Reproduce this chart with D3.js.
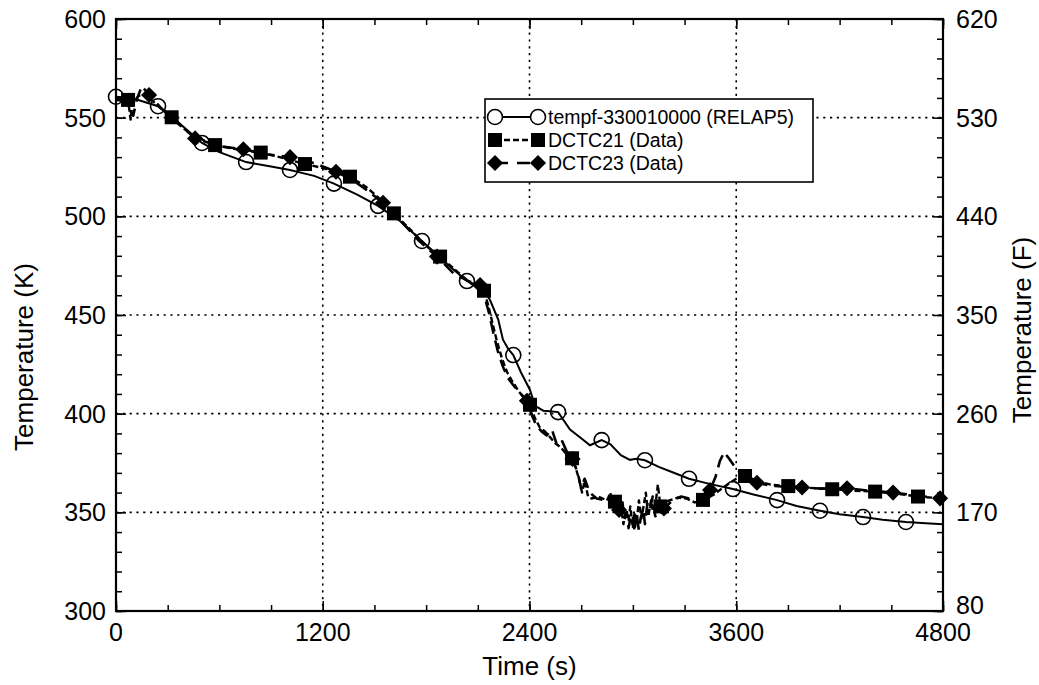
<!DOCTYPE html>
<html>
<head>
<meta charset="utf-8">
<script src="https://cdn.jsdelivr.net/npm/d3@7/dist/d3.min.js"></script>
<style>
  html, body { margin: 0; padding: 0; background: #fff; }
  svg { display: block; }
  text { font-family: "Liberation Sans", Arial, Helvetica, sans-serif; fill: #000; }
</style>
</head>
<body>
<svg id="chart" width="1039" height="685"></svg>
<script>
// ---- Data -----------------------------------------------------------
// RELAP5 calculation (fluid temperature, K)
const relapTime = [0,60,120,244,350,499,600,755,900,1010,1150,1265,1400,1521,1650,1776,1900,2037,2100,2140,2171,2219,2246,2275,2306,2350,2403,2432,2480,2520,2566,2635,2700,2751,2790,2819,2870,2930,2983,3020,3070,3150,3230,3326,3450,3581,3700,3837,3950,4086,4200,4336,4450,4585,4700,4800];
const relapTemp = [560.6,560.2,559.2,555.8,548.5,537.2,532.5,527.5,525.2,523.5,520.5,516.6,511,505.3,497.5,487.5,477.5,467.2,465,462,457.6,447.5,437.5,433,429.7,421,412,404,401.5,401.2,400.8,392,387.5,384,385.5,386.6,384.5,379,376.6,377.2,376.4,373,370.3,367,364.3,361.8,359,356.2,353.2,350.8,349,347.6,346.3,345.1,344.5,344];
const relapMarkers = [0,244,499,755,1010,1265,1521,1776,2037,2306,2566,2819,3070,3326,3581,3837,4086,4336,4585];

// Thermocouple DCTC21 (measured, K)
const dctc21Time = [0,40,70,85,95,130,170,230,323,400,459,575,700,840,950,1097,1200,1358,1450,1530,1613,1700,1800,1881,1980,2060,2136,2160,2185,2210,2240,2270,2296,2340,2403,2430,2460,2490,2520,2550,2580,2610,2647,2670,2690,2705,2720,2740,2760,2800,2850,2870,2880,2896,2915,2930,2945,2960,2975,2985,3000,3010,3022,3035,3050,3060,3075,3090,3105,3115,3130,3145,3160,3210,3260,3310,3360,3407,3470,3530,3600,3651,3720,3800,3902,4000,4157,4280,4406,4530,4655,4800];
const dctc21Temp = [559,558.5,559,549,557,561,562,557,550.2,544,540.5,536.1,534,532.3,530,526.5,524.5,520.1,515,509,501.5,494,485,479.6,472,466,462.3,455,446,437,428,421,417,411,404.5,398,393,391,388,385,383,380,377.4,372,366,360,366,358,357,358,356,360,352,355.4,349,354,344,351,346,353,342,350,345,356,347,352,360,348,356,351,353,364,353,356,357.5,357,355,356.3,359,363,367,368.4,366,364,363.3,362.5,361.7,361,360.5,359.5,358,357];
const dctc21Markers = [70,323,575,840,1097,1358,1613,1881,2136,2403,2647,2896,3160,3407,3651,3902,4157,4406,4655];

// Thermocouple DCTC23 (measured, K)
const dctc23Time = [0,50,100,120,150,192,260,323,400,459,600,739,870,1010,1150,1277,1380,1460,1550,1650,1760,1863,1960,2050,2113,2140,2165,2190,2215,2245,2275,2310,2350,2385,2410,2440,2470,2500,2530,2560,2590,2620,2650,2680,2700,2720,2750,2790,2840,2880,2920,2940,2950,2965,2975,2990,3000,3010,3020,3035,3045,3060,3070,3085,3100,3115,3130,3180,3230,3280,3330,3390,3448,3480,3505,3530,3560,3600,3650,3720,3800,3890,3982,4100,4243,4370,4510,4650,4783,4800];
const dctc23Temp = [560,558,551,559,566,561.5,555,550,544,539.5,535.5,534,531.5,530,527,522.6,518,513,506.9,498,487.5,479.6,471,467,465.2,459,451,441,432,424,418,414,410,406.5,400,394,391,389,392,384,386,380,377,370,362,367,360,357,356,353,351.2,355,346,350,342,349,348,340,350,341,347,352,344,355,352,358,348,352,356,358,357,358,361.3,368,376,380.5,377,372,368,365,363.5,363,362.6,362,362.2,361,360,358.5,357.1,357];
const dctc23Markers = [192,459,739,1010,1277,1550,1863,2113,2385,2650,2920,3180,3448,3720,3982,4243,4510,4783];

// Axis ticks
const timeTicks = [0,1200,2400,3600,4800];
const kelvinTicks = [300,350,400,450,500,550,600];
const fahrenheitTicks = [80,170,260,350,440,530,620];

const legendLabels = ["tempf-330010000 (RELAP5)", "DCTC21 (Data)", "DCTC23 (Data)"];

// ---- Layout ---------------------------------------------------------
const svg = d3.select("#chart");
const plotLeft = 116, plotTop = 19, plotRight = 943, plotBottom = 611;

const x = d3.scaleLinear().domain([0, 4800]).range([plotLeft, plotRight]);
const y = d3.scaleLinear().domain([300, 600]).range([plotBottom, plotTop]);
const yF = d3.scaleLinear().domain([80, 620]).range([plotBottom, plotTop]);

// Grid lines (dotted) at interior major ticks
const grid = svg.append("g").attr("stroke", "#000").attr("stroke-width", 1.6)
  .attr("stroke-dasharray", "2.2,4.6");
grid.selectAll("line.gx").data(timeTicks.slice(1, -1)).enter().append("line")
  .attr("x1", d => x(d)).attr("x2", d => x(d)).attr("y1", plotTop).attr("y2", plotBottom);
grid.selectAll("line.gy").data(kelvinTicks.slice(1, -1)).enter().append("line")
  .attr("x1", plotLeft).attr("x2", plotRight).attr("y1", d => y(d)).attr("y2", d => y(d));

// Axes with inward ticks on all four sides
function inward(axis, g) {
  g.call(axis);
  g.select(".domain").remove();
  g.selectAll("line").attr("stroke", "#000").attr("stroke-width", 1.5);
  g.selectAll("text").remove();
}
const minorTime = d3.range(0, 4801, 300);
const minorK = d3.range(300, 601, 10);
const minorF = d3.range(80, 621, 18);

inward(d3.axisTop(x).tickValues(minorTime).tickSize(6), svg.append("g").attr("transform", `translate(0,${plotBottom})`));
inward(d3.axisBottom(x).tickValues(minorTime).tickSize(6), svg.append("g").attr("transform", `translate(0,${plotTop})`));
inward(d3.axisRight(y).tickValues(minorK).tickSize(6), svg.append("g").attr("transform", `translate(${plotLeft},0)`));
inward(d3.axisLeft(yF).tickValues(minorF).tickSize(6), svg.append("g").attr("transform", `translate(${plotRight},0)`));
inward(d3.axisTop(x).tickValues(timeTicks).tickSize(10), svg.append("g").attr("transform", `translate(0,${plotBottom})`));
inward(d3.axisBottom(x).tickValues(timeTicks).tickSize(10), svg.append("g").attr("transform", `translate(0,${plotTop})`));
inward(d3.axisRight(y).tickValues(kelvinTicks).tickSize(10), svg.append("g").attr("transform", `translate(${plotLeft},0)`));
inward(d3.axisLeft(yF).tickValues(fahrenheitTicks).tickSize(10), svg.append("g").attr("transform", `translate(${plotRight},0)`));

// Tick labels
svg.append("g").selectAll("text").data(timeTicks).enter().append("text")
  .attr("x", d => x(d)).attr("y", 641).attr("text-anchor", "middle")
  .attr("font-size", 25).text(d => d);
svg.append("g").selectAll("text").data(kelvinTicks).enter().append("text")
  .attr("x", 106).attr("y", d => y(d) + 9).attr("text-anchor", "end")
  .attr("font-size", 25).text(d => d);
// lowest Fahrenheit label sits a little higher to clear the time label below it
svg.append("g").selectAll("text").data(fahrenheitTicks).enter().append("text")
  .attr("x", 956).attr("y", (d, i) => yF(d) + (i === 0 ? 3 : 9)).attr("text-anchor", "start")
  .attr("font-size", 25).text(d => d);

// Axis titles
svg.append("text").attr("x", (plotLeft + plotRight) / 2).attr("y", 675).attr("text-anchor", "middle")
  .attr("font-size", 26).text("Time (s)");
svg.append("text").attr("transform", "translate(33,357) rotate(-90)").attr("text-anchor", "middle")
  .attr("font-size", 26).text("Temperature (K)");
svg.append("text").attr("transform", "translate(1031,330) rotate(-90)").attr("text-anchor", "middle")
  .attr("font-size", 26).text("Temperature (F)");

// ---- Series ---------------------------------------------------------
const line = d3.line().x(d => x(d[0])).y(d => y(d[1]));
const zip = (t, v) => t.map((ti, i) => [ti, v[i]]);
const relap = zip(relapTime, relapTemp);
const dctc21 = zip(dctc21Time, dctc21Temp);
const dctc23 = zip(dctc23Time, dctc23Temp);
const pick = (pts, times) => pts.filter(p => times.includes(p[0]));

const plot = svg.append("g");

plot.append("path").datum(dctc23).attr("d", line).attr("fill", "none")
  .attr("stroke", "#000").attr("stroke-width", 2.6).attr("stroke-dasharray", "13,7")
  .attr("stroke-linejoin", "round");
plot.append("path").datum(dctc21).attr("d", line).attr("fill", "none")
  .attr("stroke", "#000").attr("stroke-width", 2.4).attr("stroke-dasharray", "6,3")
  .attr("stroke-linejoin", "round");
plot.append("path").datum(relap).attr("d", line).attr("fill", "none")
  .attr("stroke", "#000").attr("stroke-width", 2);

const square = d3.symbol().type(d3.symbolSquare).size(196);
const diamond = d3.symbol().type(d3.symbolSquare).size(130);

plot.selectAll("path.sq").data(pick(dctc21, dctc21Markers)).enter().append("path")
  .attr("class", "sq").attr("d", square)
  .attr("transform", d => `translate(${x(d[0])},${y(d[1])})`).attr("fill", "#000");
plot.selectAll("path.dm").data(pick(dctc23, dctc23Markers)).enter().append("path")
  .attr("class", "dm").attr("d", diamond)
  .attr("transform", d => `translate(${x(d[0])},${y(d[1])}) rotate(45)`).attr("fill", "#000");
plot.selectAll("circle.rc").data(pick(relap, relapMarkers)).enter().append("circle")
  .attr("class", "rc").attr("cx", d => x(d[0])).attr("cy", d => y(d[1])).attr("r", 7.5)
  .attr("fill", "none").attr("stroke", "#000").attr("stroke-width", 1.6);

// Frame
svg.append("rect").attr("x", plotLeft).attr("y", plotTop)
  .attr("width", plotRight - plotLeft).attr("height", plotBottom - plotTop)
  .attr("fill", "none").attr("stroke", "#000").attr("stroke-width", 2.2);

// ---- Legend ---------------------------------------------------------
const lg = svg.append("g");
lg.append("rect").attr("x", 485).attr("y", 99).attr("width", 328).attr("height", 83)
  .attr("fill", "#fff").attr("stroke", "#000").attr("stroke-width", 1.6);
const rowY = [117, 140, 163];
const x0 = 495, x1 = 538;
// row 1: open circles, solid line
lg.append("line").attr("x1", x0).attr("x2", x1).attr("y1", rowY[0]).attr("y2", rowY[0])
  .attr("stroke", "#000").attr("stroke-width", 2);
[x0, x1].forEach(cx => lg.append("circle").attr("cx", cx).attr("cy", rowY[0]).attr("r", 7.5)
  .attr("fill", "#fff").attr("stroke", "#000").attr("stroke-width", 1.6));
// row 2: squares, short dashes
lg.append("line").attr("x1", x0).attr("x2", x1).attr("y1", rowY[1]).attr("y2", rowY[1])
  .attr("stroke", "#000").attr("stroke-width", 2.4).attr("stroke-dasharray", "6,3");
[x0, x1].forEach(cx => lg.append("path").attr("d", square)
  .attr("transform", `translate(${cx},${rowY[1]})`).attr("fill", "#000"));
// row 3: diamonds, long dashes
lg.append("line").attr("x1", x0).attr("x2", x1).attr("y1", rowY[2]).attr("y2", rowY[2])
  .attr("stroke", "#000").attr("stroke-width", 2.6).attr("stroke-dasharray", "13,9");
[x0, x1].forEach(cx => lg.append("path").attr("d", diamond)
  .attr("transform", `translate(${cx},${rowY[2]}) rotate(45)`).attr("fill", "#000"));
lg.selectAll("text").data(legendLabels).enter().append("text")
  .attr("x", 548).attr("y", (d, i) => rowY[i] + 7).attr("font-size", 19.5).text(d => d);
</script>
</body>
</html>
